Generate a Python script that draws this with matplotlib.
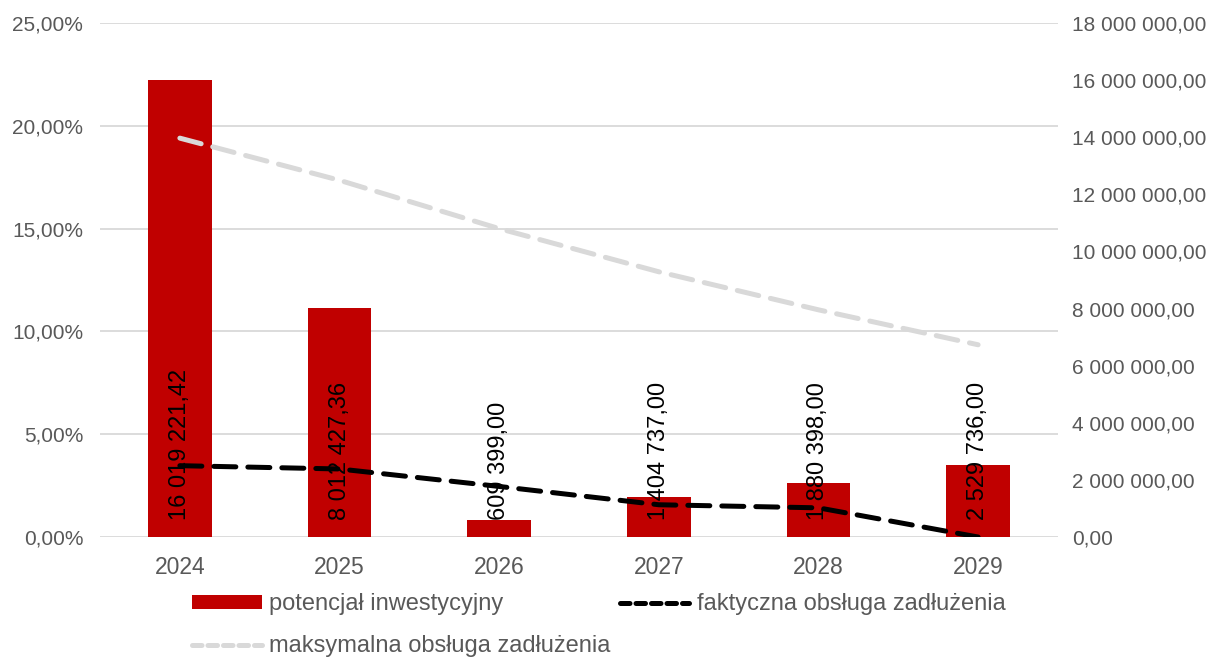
import matplotlib.pyplot as plt
from matplotlib.lines import Line2D
from matplotlib.ticker import FuncFormatter, MultipleLocator

plt.rcParams['font.family'] = ['Liberation Sans', 'DejaVu Sans']

years = ["2024", "2025", "2026", "2027", "2028", "2029"]
potencjal = [16019221.42, 8012427.36, 609399.00, 1404737.00, 1880398.00, 2529736.00]
faktyczna = [3.47, 3.31, 2.46, 1.57, 1.42, 0.0]
maksymalna = [19.40, 17.35, 15.00, 12.90, 11.05, 9.35]

grey_txt = "#595959"
grid_col = "#d9d9d9"
red = "#C00000"
light = "#d9d9d9"


def pl_money(v):
    return f"{v:,.2f}".replace(",", " ").replace(".", ",")


fig = plt.figure(figsize=(12.17, 6.57), dpi=100)
ax = fig.add_axes([0.0822, 0.1826, 0.7871, 0.7824])
ax2 = ax.twinx()
ax3 = fig.add_axes(ax.get_position(), sharex=ax, sharey=ax)
ax3.axis("off")

x = list(range(len(years)))

# bars with values on the right axis
bars = ax2.bar(x, potencjal, width=0.4, color=red, zorder=2)
for xi, v in zip(x, potencjal):
    ax2.annotate(pl_money(v), xy=(xi, 0), xytext=(0, 12), textcoords="offset points",
                 rotation=90, ha="center", va="bottom", fontsize=17, color="black")

# debt service lines (percent, left axis)
ax3.plot(x, faktyczna, color="black", lw=3.6, dashes=(4.4, 2.4),
         dash_capstyle="round")
ax3.plot(x, maksymalna, color=light, lw=3.6, dashes=(4.4, 2.4),
         dash_capstyle="round")

ax.set_xlim(-0.5, 5.5)
ax.set_ylim(0, 25)
ax2.set_ylim(0, 18000000)
ax.yaxis.set_major_locator(MultipleLocator(5))
ax2.yaxis.set_major_locator(MultipleLocator(2000000))
ax.yaxis.set_major_formatter(FuncFormatter(lambda v, p: f"{v:.2f}".replace(".", ",") + "%"))
ax2.yaxis.set_major_formatter(FuncFormatter(lambda v, p: pl_money(v)))
ax.set_xticks(x)
ax.set_xticklabels(years)

ax.grid(axis="y", color=grid_col, lw=1.3)
ax.set_axisbelow(True)
for a in (ax, ax2):
    for s in a.spines.values():
        s.set_visible(False)
    a.tick_params(length=0, labelsize=15, labelcolor=grey_txt)
ax.tick_params(axis="y", pad=12)
ax.tick_params(axis="x", pad=13.5, labelsize=16.5)
ax2.tick_params(axis="y", pad=10)

# legend keys with shorter dashes
h_fakt = Line2D([], [], color="black", lw=3.6, dashes=(1.9, 1.2), dash_capstyle="round")
h_maks = Line2D([], [], color=light, lw=3.6, dashes=(1.9, 1.2), dash_capstyle="round")
fig.legend([bars, h_maks, h_fakt],
           ["potencjał inwestycyjny", "maksymalna obsługa zadłużenia",
            "faktyczna obsługa zadłużenia"],
           ncol=2, loc="center", bbox_to_anchor=(0.492, 0.048), frameon=False,
           fontsize=17, labelcolor=grey_txt, handlelength=2.95, handletextpad=0.3,
           columnspacing=0.4, labelspacing=0.85, handleheight=0.5,
           borderpad=0.2)

fig.savefig("out.png", dpi=100)
